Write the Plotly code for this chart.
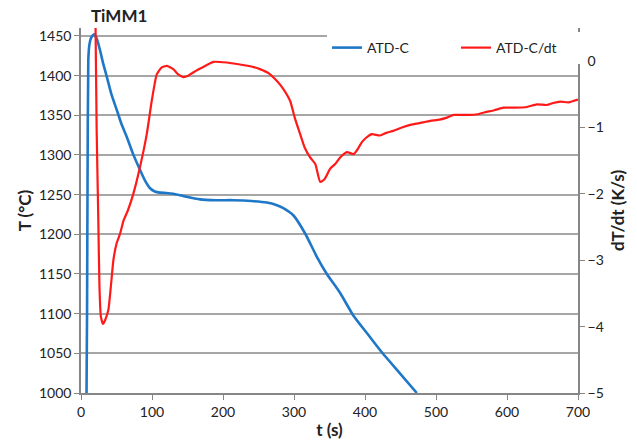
import plotly.graph_objects as go

# Data
t_T = [7.5, 8.5, 9.2, 10.3, 12, 15, 18.8, 22, 26.8, 31, 36.2, 43, 50.3, 57, 64.4, 73, 83.2, 90, 97.3,
       104, 111, 120, 130, 145, 167.7, 190, 214.7, 240, 261.7, 275, 285, 299, 315.7, 332, 346.3, 365,
       384, 404, 424, 448, 473]
T_vals = [960, 1100, 1260, 1420, 1440, 1449, 1452, 1447, 1432, 1416, 1399, 1376, 1357, 1339, 1323, 1302,
          1281, 1268, 1258, 1254, 1252.5, 1252, 1251, 1248, 1244, 1243, 1243, 1242, 1240, 1237, 1233, 1224,
          1201, 1172, 1150, 1126, 1097, 1074, 1051, 1026, 1000]

t_d = [19, 20.5, 22, 24.4, 26, 28, 31, 34, 38.5, 42, 45.6, 50, 55, 60, 66, 73.7, 83, 92.6, 99.6, 106.7,
       113, 120.8, 130, 137, 144, 151, 158, 170, 186.5, 205, 224, 240, 252, 264, 276, 285, 294.6, 301,
       308.7, 315, 322.7, 330, 336.9, 343, 351, 358, 365, 374.5, 384, 390, 395.6, 402, 409.6, 421, 430,
       440, 452, 463.7, 478, 491.9, 505, 515.4, 524.8, 536, 548, 558, 569, 582, 595, 611, 628, 642, 656,
       665, 675, 686.8, 700]
dTdt_vals = [1.2, 0.5, -1.0, -2.4, -3.4, -3.85, -3.96, -3.9, -3.75, -3.4, -3.0, -2.75, -2.6, -2.4, -2.25,
             -2.0, -1.6, -1.1, -0.6, -0.2, -0.1, -0.07, -0.12, -0.2, -0.24, -0.22, -0.17, -0.1, -0.01,
             -0.02, -0.05, -0.08, -0.12, -0.18, -0.30, -0.42, -0.6, -0.85, -1.1, -1.3, -1.45, -1.55,
             -1.82, -1.78, -1.62, -1.55, -1.45, -1.37, -1.40, -1.32, -1.22, -1.15, -1.10, -1.12, -1.08,
             -1.05, -1.0, -0.96, -0.93, -0.90, -0.88, -0.85, -0.81, -0.81, -0.81, -0.8, -0.77, -0.74,
             -0.70, -0.70, -0.69, -0.65, -0.66, -0.63, -0.61, -0.62, -0.58]

x_ticks = [0, 100, 200, 300, 400, 500, 600, 700]
y_ticks = [1000, 1050, 1100, 1150, 1200, 1250, 1300, 1350, 1400, 1450]
y2_ticks = [-5, -4, -3, -2, -1, 0]

FONT = "Lato, 'Open Sans', sans-serif"
AX = "#868686"
GRID = "#a6a6a6"

ML, MR, MT, MB = 81, 59, 28, 54
W, H = 637, 447
PW, PH = W - ML - MR, H - MT - MB

fig = go.Figure()
fig.add_trace(go.Scatter(x=t_T, y=T_vals, name="ATD-C", mode="lines",
                         line=dict(color="#1f77c8", width=2.6, shape="spline", smoothing=0.5)))
fig.add_trace(go.Scatter(x=t_d, y=dTdt_vals, name="ATD-C/dt", mode="lines", yaxis="y2",
                         line=dict(color="#ff1a1a", width=2.2, shape="spline", smoothing=0.5)))

fig.update_layout(
    width=W, height=H,
    margin=dict(l=ML, r=MR, t=MT, b=MB, autoexpand=False),
    paper_bgcolor="white", plot_bgcolor="white",
    font=dict(family=FONT, size=14, color="#222"),
    showlegend=True,
    legend=dict(orientation="h", x=(327 - ML) / PW, y=1 - (48 - MT) / PH,
                xanchor="left", yanchor="middle",
                bgcolor="white", font=dict(size=14, color="#222"),
                itemwidth=30, entrywidth=84, entrywidthmode="pixels"),
    xaxis=dict(range=[0, 700], tickvals=x_ticks, showgrid=False, zeroline=False, automargin=False,
               showline=True, linecolor=AX, linewidth=1.5, ticks="outside", ticklen=5,
               tickcolor=AX, title=dict(text="<b>t (s)</b>", font=dict(size=17), standoff=6)),
    yaxis=dict(range=[1000, 1460], tickvals=y_ticks, showgrid=True, gridcolor=GRID, gridwidth=1.5,
               zeroline=False, showline=True, linecolor=AX, linewidth=1.5, ticks="outside",
               ticklen=5, tickcolor=AX, automargin=False,
               title=dict(text="<b>T (°C)</b>", font=dict(size=17), standoff=3)),
    yaxis2=dict(range=[-5, 0.5], tickvals=y2_ticks, overlaying="y", side="right", showgrid=False,
                zeroline=False, showline=True, linecolor=AX, linewidth=1.5, ticks="outside",
                ticklen=5, tickcolor=AX, automargin=False,
                title=dict(text="<b>dT/dt (K/s)</b>", font=dict(size=17), standoff=9)),
    annotations=[dict(text="<b>TiMM1</b>", x=(119 - ML) / PW, y=1 + (MT - 15) / PH,
                      xref="paper", yref="paper", xanchor="center", yanchor="middle",
                      showarrow=False, font=dict(size=17, color="#222"))],
)

fig.write_html("out.html", config={"displayModeBar": False},
               post_script="document.body.style.margin='0';")
